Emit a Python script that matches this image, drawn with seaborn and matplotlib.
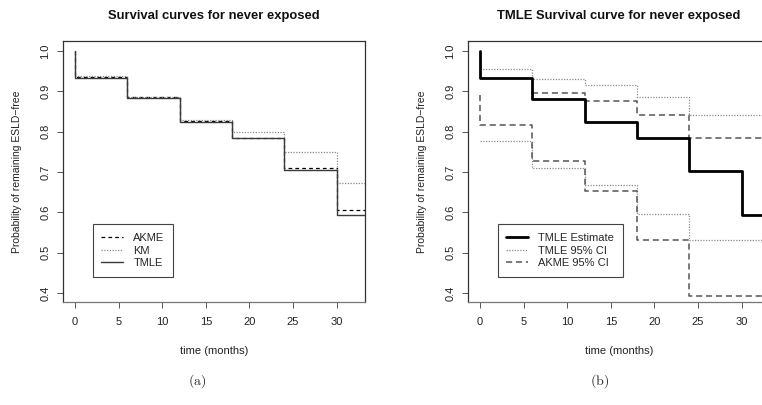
import numpy as np
import pandas as pd
import matplotlib
matplotlib.use("Agg")
import matplotlib.pyplot as plt
import seaborn as sns
from matplotlib.lines import Line2D

# ---------------- data ----------------
times = [0, 6, 12, 18, 24, 30]
end_time = 34
start_value = 1.0

# panel (a)
akme = [0.936, 0.886, 0.827, 0.785, 0.709, 0.605]
km = [0.937, 0.887, 0.828, 0.799, 0.749, 0.672]
tmle = [0.934, 0.883, 0.824, 0.785, 0.704, 0.593]

# panel (b)
tmle_est = [0.934, 0.882, 0.824, 0.785, 0.703, 0.593]
tmle_upper = [0.955, 0.930, 0.916, 0.885, 0.841, 0.841]
tmle_lower = [0.778, 0.709, 0.668, 0.597, 0.532, 0.532]
akme_upper_times = [6, 12, 18, 24, 30]
akme_upper = [0.897, 0.877, 0.841, 0.785, 0.785]
akme_lower_start = 0.891
akme_lower = [0.817, 0.727, 0.654, 0.531, 0.393, 0.393]

xticks = [0, 5, 10, 15, 20, 25, 30]
yticks = [0.4, 0.5, 0.6, 0.7, 0.8, 0.9, 1.0]
ytick_labels = ["0.4", "0.5", "0.6", "0.7", "0.8", "0.9", "1.0"]


def step_frame(t, v, start=None):
    x = list(t) + [end_time]
    y = list(v) + [v[-1]]
    if start is not None:
        x = [t[0]] + x
        y = [start] + y
    return pd.DataFrame({"time": x, "surv": y})


sns.set_theme(style="ticks")
plt.rcParams["font.family"] = ["Liberation Sans", "DejaVu Sans"]
plt.rcParams["mathtext.fontset"] = "cm"

fig = plt.figure(figsize=(7.62, 4.05), dpi=100)
W, H = 762, 405
ax_l, ax_r = 63, 468
top, bottom = 41, 302
aw = 302
axa = fig.add_axes([ax_l / W, (H - bottom) / H, aw / W, (bottom - top) / H])
axb = fig.add_axes([ax_r / W, (H - bottom) / H, aw / W, (bottom - top) / H])

kw = dict(x="time", y="surv", sort=False, estimator=None, drawstyle="steps-post")

# ---- panel (a)
sns.lineplot(data=step_frame(times, akme, start_value), ax=axa, color="black",
             lw=0.9, linestyle=(0, (3, 2.5)), **kw)
sns.lineplot(data=step_frame(times, km, start_value), ax=axa, color="#8a8a8a",
             lw=0.9, linestyle=(0, (1, 1.2)), **kw)
sns.lineplot(data=step_frame(times, tmle, start_value), ax=axa, color="#3a3a3a",
             lw=1.0, linestyle="-", **kw)

# ---- panel (b)
sns.lineplot(data=step_frame(times, tmle_upper), ax=axb, color="#8a8a8a",
             lw=0.9, linestyle=(0, (1, 1.2)), **kw)
sns.lineplot(data=step_frame(times, tmle_lower), ax=axb, color="#8a8a8a",
             lw=0.9, linestyle=(0, (1, 1.2)), **kw)
sns.lineplot(data=step_frame(akme_upper_times, akme_upper), ax=axb, color="#555555",
             lw=1.1, linestyle=(0, (4, 2.5)), **kw)
sns.lineplot(data=step_frame(times, akme_lower, akme_lower_start), ax=axb, color="#555555",
             lw=1.1, linestyle=(0, (4, 2.5)), **kw)
sns.lineplot(data=step_frame(times, tmle_est, start_value), ax=axb, color="black",
             lw=2.0, linestyle="-", **kw)

for ax, title in [(axa, "Survival curves for never exposed"),
                  (axb, "TMLE Survival curve for never exposed")]:
    ax.set_xlim(-1.38, 33.26)
    ax.set_ylim(0.378, 1.025)
    ax.set_xticks(xticks)
    ax.set_yticks(yticks)
    ax.set_yticklabels(ytick_labels, rotation=90, va="center")
    ax.tick_params(axis="both", labelsize=8, length=4, width=0.7,
                   color="#555555", labelcolor="#222222")
    ax.tick_params(axis="x", pad=7)
    ax.tick_params(axis="y", pad=5)
    for s in ax.spines.values():
        s.set_visible(True)
        s.set_color("#333333")
        s.set_linewidth(0.9)
    ax.spines["bottom"].set_color("#777777")
    ax.set_xlabel("time (months)", fontsize=8, color="#222222")
    ax.set_ylabel("Probability of remaining ESLD\u2212free", fontsize=7.5, color="#222222")
    ax.xaxis.set_label_coords(0.5, -0.168)
    ax.yaxis.set_label_coords(-0.137, 0.5)
    ax.set_title(title, fontsize=9.4, fontweight="bold", pad=16, color="#111111")
    ax.grid(False)

# legends
la = axa.lines
handles_a = [Line2D([], [], color=la[0].get_color(), lw=0.9, linestyle=(0, (3, 2.5))),
             Line2D([], [], color=la[1].get_color(), lw=0.9, linestyle=(0, (1, 1.2))),
             Line2D([], [], color=la[2].get_color(), lw=1.0)]
leg = axa.legend(handles_a, ["AKME", "KM", "TMLE"], loc="lower left",
                 bbox_to_anchor=(0.099, 0.097), borderaxespad=0, fontsize=8,
                 fancybox=False, framealpha=1, edgecolor="#444444",
                 handlelength=2.0, handletextpad=0.9, labelspacing=0.25,
                 borderpad=0.75)
leg.get_frame().set_linewidth(0.8)

handles_b = [Line2D([], [], color="black", lw=2.0),
             Line2D([], [], color="#8a8a8a", lw=0.9, linestyle=(0, (1, 1.2))),
             Line2D([], [], color="#555555", lw=1.1, linestyle=(0, (4, 2.5)))]
leg = axb.legend(handles_b, ["TMLE Estimate", "TMLE 95% CI", "AKME 95% CI"],
                 loc="lower left", bbox_to_anchor=(0.099, 0.097), borderaxespad=0,
                 fontsize=8, fancybox=False, framealpha=1, edgecolor="#444444",
                 handlelength=2.0, handletextpad=0.9, labelspacing=0.25,
                 borderpad=0.75)
leg.get_frame().set_linewidth(0.8)

fig.text(197 / W, 1 - 381 / H, r"$\mathrm{(a)}$", ha="center", va="center", fontsize=10)
fig.text(600 / W, 1 - 381 / H, r"$\mathrm{(b)}$", ha="center", va="center", fontsize=10)

fig.savefig("out.png", dpi=100)
